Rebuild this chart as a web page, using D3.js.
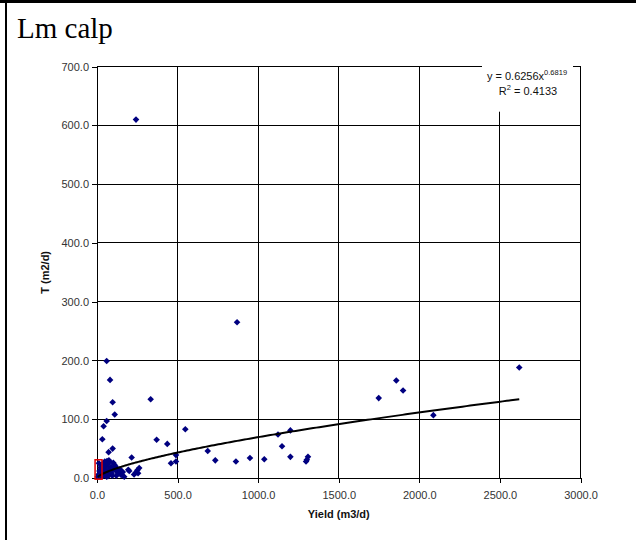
<!DOCTYPE html>
<html>
<head>
<meta charset="utf-8">
<script src="https://cdn.jsdelivr.net/npm/d3@7/dist/d3.min.js"></script>
<style>
  html, body { margin: 0; padding: 0; background: #fff; }
  svg { display: block; }
</style>
</head>
<body>
<svg id="chart" width="636" height="540"></svg>
<script>
// Well yield (m3/d) against transmissivity T (m2/d) for the Lm calp unit
const yieldVals = [
  242, 869, 2620, 60, 81, 97, 110, 60, 41, 33, 72, 97, 333, 370, 436, 548, 490, 459, 490,
  687, 734, 862, 949, 1038, 1123, 1200, 1148, 1200, 1297, 1309, 1302, 1748, 1857, 1899, 2087,
  215, 194, 169, 230, 250, 262, 240, 255, 137, 122, 143, 200, 76, 101, 107, 85, 81, 91, 50, 35, 62, 74,
  5, 10, 12, 15, 18, 20, 22, 25, 28, 30, 32, 38, 40, 42, 45, 48, 50, 55, 58, 60, 65, 68, 70, 78, 88, 95, 100, 115, 120, 130, 150, 160
];
const tVals = [
  610, 265, 188, 199, 167, 129, 108, 97, 88, 66, 44, 50, 134, 65, 58, 83, 39, 25, 28,
  46, 30, 28, 34, 32, 74, 81, 54, 36, 28, 36, 31, 136, 166, 149, 107,
  35, 14, 2, 6, 13, 17, 9, 8, 8, 11, 15, 12, 28, 26, 23, 13, 17, 8, 19, 3, 29, 30,
  2, 6, 25, 12, 8, 3, 18, 15, 4, 22, 10, 12, 25, 6, 15, 28, 5, 20, 10, 2, 12, 3, 24, 6, 18, 4, 15, 20, 4, 14, 5, 10
];

// Power trend line T = a * Yield^b and its fit statistic
const trendA = 0.6256;
const trendB = 0.6819;
const trendR2 = 0.4133;
const trendRange = [5, 2620];

// Highlighted region near the origin [x0, x1, y0, y1]
const highlight = [-12, 31, -2, 31];

const xTicks = [0, 500, 1000, 1500, 2000, 2500, 3000];
const yTicks = [0, 100, 200, 300, 400, 500, 600, 700];

const title = "Lm calp";
const xTitle = "Yield (m3/d)";
const yTitle = "T (m2/d)";

const sans = "'Liberation Sans', Arial, sans-serif";
const svg = d3.select("#chart");

// Page frame: thick rule along top and left edges
svg.append("rect").attr("x", 0).attr("y", 0).attr("width", 636).attr("height", 3).attr("fill", "#000");
svg.append("rect").attr("x", 5).attr("y", 0).attr("width", 2).attr("height", 540).attr("fill", "#000");

svg.append("text")
  .attr("x", 17).attr("y", 38)
  .attr("font-family", "'Liberation Serif', 'Times New Roman', serif")
  .attr("font-size", 29)
  .attr("fill", "#000")
  .text(title);

const plot = { left: 97, right: 580.5, top: 66.7, bottom: 478 };

const x = d3.scaleLinear().domain([0, 3000]).range([plot.left, plot.right]);
const y = d3.scaleLinear().domain([0, 700]).range([plot.bottom, plot.top]);

// Gridlines
const grid = svg.append("g").attr("stroke", "#000").attr("stroke-width", 1).attr("shape-rendering", "crispEdges");
grid.selectAll(".h").data(yTicks.slice(1)).join("line")
  .attr("x1", plot.left).attr("x2", plot.right)
  .attr("y1", d => y(d)).attr("y2", d => y(d));
grid.selectAll(".v").data(xTicks.slice(1)).join("line")
  .attr("y1", plot.top).attr("y2", plot.bottom)
  .attr("x1", d => x(d)).attr("x2", d => x(d));

// Axes
const fmt = d => d.toFixed(1);
const yAxis = svg.append("g")
  .attr("transform", `translate(${plot.left},0)`)
  .call(d3.axisLeft(y).tickValues(yTicks).tickFormat(fmt).tickSize(5).tickPadding(3));
const xAxis = svg.append("g")
  .attr("transform", `translate(0,${plot.bottom})`)
  .call(d3.axisBottom(x).tickValues(xTicks).tickFormat(fmt).tickSize(5).tickPadding(8));
[xAxis, yAxis].forEach(g => {
  g.select(".domain").attr("stroke", "#000").attr("shape-rendering", "crispEdges");
  g.selectAll(".tick line").attr("stroke", "#000").attr("shape-rendering", "crispEdges");
  g.selectAll(".tick text").attr("font-family", sans).attr("font-size", 11).attr("fill", "#333");
});

// Axis titles
svg.append("text")
  .attr("x", (plot.left + plot.right) / 2)
  .attr("y", 518)
  .attr("text-anchor", "middle")
  .attr("font-family", sans).attr("font-size", 11).attr("font-weight", "bold")
  .attr("fill", "#111")
  .text(xTitle);
svg.append("text")
  .attr("transform", `translate(49,${(plot.top + plot.bottom) / 2}) rotate(-90)`)
  .attr("text-anchor", "middle")
  .attr("font-family", sans).attr("font-size", 11).attr("font-weight", "bold")
  .attr("fill", "#111")
  .text(yTitle);

// Points
const points = yieldVals.map((v, i) => ({ x: v, y: tVals[i] }));
svg.append("g").selectAll("path").data(points).join("path")
  .attr("d", "M0,-3.3L3.3,0L0,3.3L-3.3,0Z")
  .attr("transform", d => `translate(${x(d.x)},${y(d.y)})`)
  .attr("fill", "#000080");

// Power trend line
const trendX = d3.range(0, 201).map(i => trendRange[0] + (trendRange[1] - trendRange[0]) * Math.pow(i / 200, 2));
svg.append("path")
  .datum(trendX.map(v => [v, trendA * Math.pow(v, trendB)]))
  .attr("fill", "none").attr("stroke", "#000").attr("stroke-width", 2)
  .attr("d", d3.line().x(d => x(d[0])).y(d => y(d[1])));

// Highlight box near origin
svg.append("rect")
  .attr("x", x(highlight[0])).attr("y", y(highlight[3]))
  .attr("width", x(highlight[1]) - x(highlight[0]))
  .attr("height", y(highlight[2]) - y(highlight[3]))
  .attr("fill", "none").attr("stroke", "#e00000").attr("stroke-width", 1.5);

// Trend equation label on a white patch
const lab = svg.append("g");
lab.append("rect").attr("x", 482).attr("y", plot.top - 1).attr("width", 91).attr("height", 46).attr("fill", "#fff");
const eq = lab.append("text")
  .attr("x", 527).attr("y", 80).attr("text-anchor", "middle")
  .attr("font-family", sans).attr("font-size", 11).attr("fill", "#111");
eq.append("tspan").text(`y = ${trendA.toFixed(4)}x`);
eq.append("tspan").attr("font-size", 7.5).attr("dy", -5).text(trendB.toFixed(4));
const r2 = lab.append("text")
  .attr("x", 528).attr("y", 95).attr("text-anchor", "middle")
  .attr("font-family", sans).attr("font-size", 11).attr("fill", "#111");
r2.append("tspan").text("R");
r2.append("tspan").attr("font-size", 7.5).attr("dy", -5).text("2");
r2.append("tspan").attr("dy", 5).text(` = ${trendR2.toFixed(4)}`);
</script>
</body>
</html>
